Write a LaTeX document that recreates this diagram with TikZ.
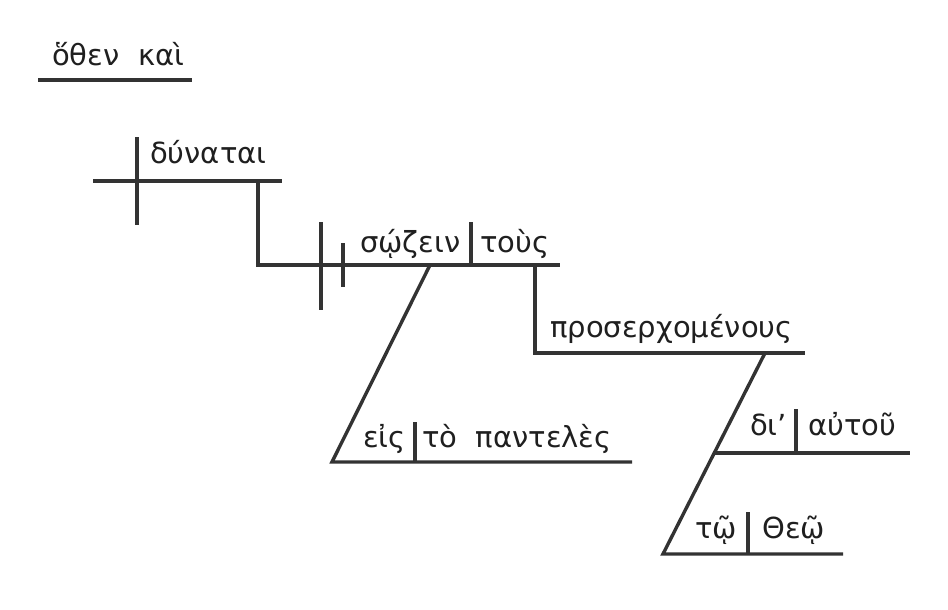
\documentclass[tikz,border=0pt]{standalone}
\usepackage{fontspec}
\setmainfont{DejaVu Sans}
\usepackage{tikz}
\usetikzlibrary{positioning,calc}

\begin{document}
\begin{tikzpicture}[
  x=1pt, y=-1pt,
  rule/.style={draw=black!80, line width=3.4pt},
  word/.style={anchor=base west, inner sep=0pt, font=\fontsize{29}{34}\selectfont, text=black!88}]
  \useasboundingbox (0,0) rectangle (948,610);
  % words
  \node[word] (othen) at (52,66) {ὅθεν\ \ καὶ};
  \node[word] (dynatai) at (150,163) {δύναται};
  \node[word] (sozein) at (360,252) {σῴζειν};
  \node[word] (tous) at (480,252) {τοὺς};
  \node[word] (proserch) at (550,337) {προσερχομένους};
  \node[word] (eis) at (363,447) {εἰς};
  \node[word] (panteles) at (422,447) {τὸ\ \ παντελὲς};
  \node[word] (di) at (750,435) {δι’};
  \node[word] (autou) at (808,435) {αὐτοῦ};
  \node[word] (to) at (695,538) {τῷ};
  \node[word] (theo) at (762,538) {Θεῷ};
  % base lines
  \draw[rule] (38,80) -- (192,80);
  \draw[rule] (93,181) -- (282,181);
  \draw[rule] (137,137) -- (137,225);
  \draw[rule] (258,181) -- (258,265) -- (560,265);
  \draw[rule] (321,222) -- (321,310);
  \draw[rule] (343,243) -- (343,287);
  \draw[rule] (471,222) -- (471,265);
  \draw[rule] (535,265) -- (535,353) -- (805,353);
  % modifiers
  \draw[rule] (430,265) -- (332,462) -- (632,462);
  \draw[rule] (415,422) -- (415,462);
  \draw[rule] (765,353) -- (663,554) -- (843,554);
  \draw[rule] (714,453) -- (910,453);
  \draw[rule] (796,409) -- (796,453);
  \draw[rule] (748,512) -- (748,554);
\end{tikzpicture}
\end{document}
